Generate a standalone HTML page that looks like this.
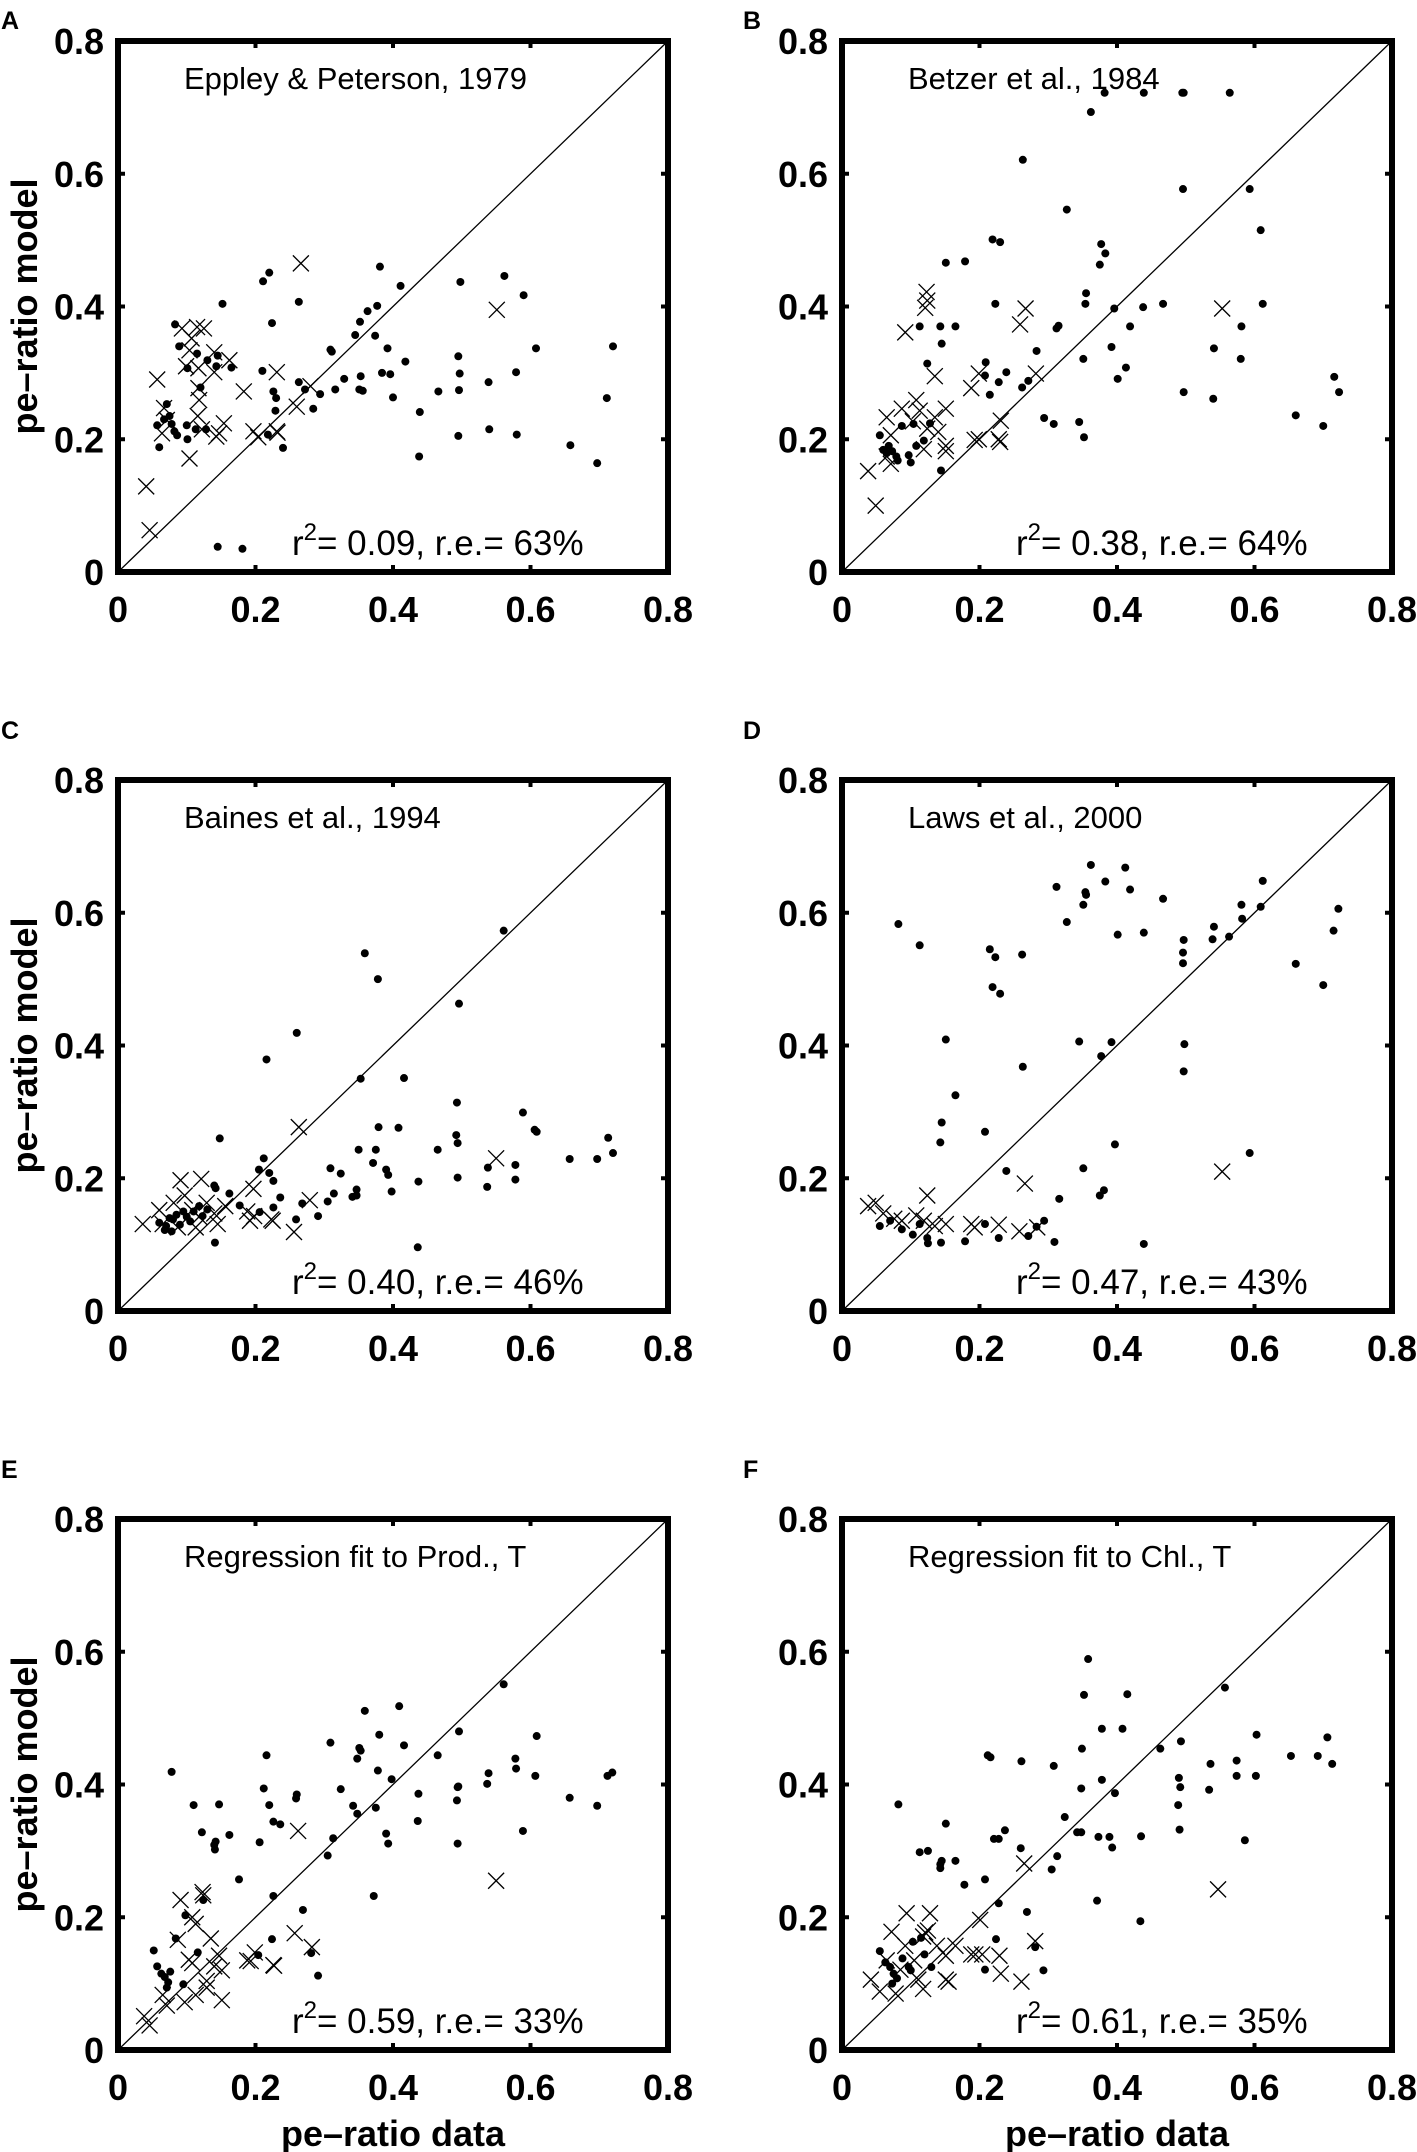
<!DOCTYPE html>
<html><head><meta charset="utf-8">
<style>
html,body{margin:0;padding:0;background:#fff;}
svg{display:block;}
.tick{font-family:"Liberation Sans",sans-serif;font-weight:bold;font-size:36px;fill:#000;}
.ann{font-family:"Liberation Sans",sans-serif;font-size:31px;fill:#000;}
.stat{font-family:"Liberation Sans",sans-serif;font-size:35px;fill:#000;}
.atitle{font-family:"Liberation Sans",sans-serif;font-weight:bold;font-size:36px;fill:#000;}
.plabel{font-family:"Liberation Sans",sans-serif;font-weight:bold;font-size:25px;fill:#000;}
</style></head>
<body>
<svg id="fig" width="1417" height="2152" viewBox="0 0 1417 2152" xmlns="http://www.w3.org/2000/svg"></svg>
<script>
// ---- data ----
const tickValues = [0, 0.2, 0.4, 0.6, 0.8];
const tickLabels = ["0", "0.2", "0.4", "0.6", "0.8"];
const panelTitles = ["Eppley & Peterson, 1979","Betzer et al., 1984","Baines et al., 1994","Laws et al., 2000","Regression fit to Prod., T","Regression fit to Chl., T"];
const panelLetters = ["A","B","C","D","E","F"];
const panelR2 = ["0.09","0.38","0.40","0.47","0.59","0.61"];
const panelRE = ["63%","64%","46%","43%","33%","35%"];

const dotsA = [[0.211,0.438],[0.220,0.451],[0.263,0.407],[0.152,0.404],[0.224,0.375],[0.381,0.460],[0.411,0.431],[0.562,0.446],[0.498,0.437],[0.590,0.417],[0.345,0.357],[0.352,0.377],[0.363,0.393],[0.377,0.401],[0.374,0.356],[0.309,0.335],[0.311,0.332],[0.392,0.337],[0.418,0.317],[0.384,0.300],[0.396,0.298],[0.329,0.291],[0.316,0.275],[0.294,0.268],[0.284,0.246],[0.263,0.286],[0.272,0.275],[0.353,0.295],[0.351,0.275],[0.356,0.273],[0.400,0.263],[0.495,0.325],[0.497,0.299],[0.496,0.274],[0.539,0.286],[0.579,0.301],[0.608,0.337],[0.720,0.340],[0.711,0.262],[0.466,0.272],[0.439,0.241],[0.540,0.215],[0.495,0.205],[0.580,0.207],[0.658,0.191],[0.697,0.164],[0.438,0.174],[0.210,0.303],[0.226,0.272],[0.230,0.262],[0.229,0.243],[0.218,0.207],[0.240,0.187],[0.145,0.038],[0.181,0.035],[0.083,0.373],[0.089,0.340],[0.101,0.307],[0.115,0.329],[0.120,0.278],[0.130,0.319],[0.143,0.310],[0.145,0.326],[0.165,0.308],[0.113,0.215],[0.128,0.215],[0.057,0.221],[0.060,0.188],[0.071,0.253],[0.075,0.235],[0.078,0.223],[0.082,0.212],[0.086,0.206],[0.067,0.230],[0.100,0.221],[0.101,0.200]];
const crossesA = [[0.266,0.465],[0.551,0.395],[0.093,0.367],[0.115,0.369],[0.125,0.367],[0.107,0.352],[0.057,0.290],[0.104,0.334],[0.099,0.310],[0.117,0.307],[0.140,0.331],[0.140,0.301],[0.162,0.319],[0.117,0.277],[0.118,0.259],[0.116,0.235],[0.122,0.215],[0.147,0.209],[0.154,0.224],[0.143,0.204],[0.067,0.247],[0.071,0.229],[0.064,0.209],[0.104,0.171],[0.041,0.129],[0.046,0.063],[0.183,0.272],[0.231,0.301],[0.197,0.212],[0.204,0.203],[0.231,0.212],[0.232,0.210],[0.260,0.249],[0.280,0.280]];

const dotsB = [[0.382,0.722],[0.439,0.722],[0.495,0.722],[0.497,0.722],[0.564,0.722],[0.362,0.693],[0.263,0.621],[0.496,0.577],[0.593,0.577],[0.327,0.546],[0.609,0.515],[0.219,0.501],[0.230,0.497],[0.377,0.494],[0.383,0.480],[0.375,0.463],[0.151,0.466],[0.179,0.468],[0.355,0.420],[0.354,0.404],[0.223,0.404],[0.396,0.397],[0.438,0.399],[0.467,0.404],[0.612,0.404],[0.113,0.370],[0.143,0.370],[0.165,0.370],[0.145,0.344],[0.312,0.367],[0.315,0.371],[0.419,0.370],[0.581,0.370],[0.392,0.339],[0.541,0.337],[0.283,0.333],[0.351,0.321],[0.580,0.321],[0.124,0.314],[0.209,0.316],[0.208,0.296],[0.239,0.301],[0.228,0.286],[0.271,0.288],[0.262,0.278],[0.215,0.267],[0.413,0.308],[0.401,0.291],[0.497,0.271],[0.540,0.261],[0.716,0.294],[0.723,0.271],[0.294,0.232],[0.308,0.223],[0.345,0.226],[0.352,0.203],[0.660,0.236],[0.700,0.220],[0.087,0.220],[0.104,0.223],[0.055,0.206],[0.128,0.224],[0.060,0.184],[0.068,0.190],[0.073,0.182],[0.079,0.174],[0.081,0.168],[0.065,0.179],[0.097,0.176],[0.100,0.165],[0.119,0.198],[0.108,0.190],[0.144,0.153]];
const crossesB = [[0.123,0.422],[0.124,0.409],[0.121,0.398],[0.092,0.361],[0.267,0.397],[0.259,0.373],[0.553,0.397],[0.135,0.295],[0.199,0.299],[0.188,0.277],[0.282,0.299],[0.151,0.246],[0.231,0.228],[0.193,0.199],[0.199,0.200],[0.228,0.200],[0.230,0.196],[0.065,0.233],[0.087,0.246],[0.108,0.259],[0.113,0.243],[0.103,0.227],[0.124,0.216],[0.135,0.233],[0.140,0.211],[0.151,0.190],[0.151,0.182],[0.071,0.206],[0.119,0.185],[0.065,0.174],[0.071,0.163],[0.038,0.152],[0.049,0.100]];

const dotsC = [[0.561,0.573],[0.359,0.539],[0.378,0.500],[0.496,0.463],[0.260,0.419],[0.216,0.379],[0.353,0.350],[0.416,0.351],[0.493,0.314],[0.589,0.299],[0.379,0.277],[0.408,0.276],[0.606,0.273],[0.609,0.270],[0.148,0.260],[0.492,0.265],[0.494,0.253],[0.713,0.261],[0.350,0.243],[0.375,0.243],[0.465,0.243],[0.720,0.238],[0.657,0.229],[0.697,0.229],[0.212,0.230],[0.371,0.223],[0.205,0.213],[0.220,0.208],[0.309,0.215],[0.324,0.207],[0.390,0.213],[0.393,0.205],[0.538,0.216],[0.578,0.220],[0.226,0.196],[0.437,0.195],[0.494,0.201],[0.578,0.198],[0.537,0.187],[0.140,0.189],[0.142,0.185],[0.162,0.177],[0.347,0.183],[0.398,0.180],[0.314,0.177],[0.305,0.165],[0.236,0.171],[0.341,0.172],[0.347,0.174],[0.268,0.162],[0.226,0.156],[0.177,0.159],[0.206,0.149],[0.291,0.143],[0.259,0.138],[0.141,0.103],[0.436,0.096],[0.060,0.133],[0.070,0.128],[0.075,0.140],[0.080,0.138],[0.085,0.145],[0.090,0.130],[0.095,0.150],[0.100,0.142],[0.105,0.135],[0.110,0.150],[0.118,0.158],[0.123,0.143],[0.130,0.153],[0.068,0.122],[0.078,0.120]];
const crossesC = [[0.263,0.277],[0.550,0.230],[0.091,0.197],[0.121,0.199],[0.197,0.184],[0.279,0.167],[0.223,0.138],[0.225,0.136],[0.256,0.119],[0.188,0.150],[0.192,0.136],[0.198,0.143],[0.036,0.131],[0.060,0.152],[0.081,0.163],[0.097,0.174],[0.108,0.152],[0.118,0.142],[0.129,0.163],[0.140,0.147],[0.145,0.131],[0.156,0.158],[0.087,0.126],[0.113,0.126],[0.065,0.131]];

const dotsD = [[0.362,0.672],[0.412,0.668],[0.312,0.639],[0.383,0.647],[0.419,0.635],[0.354,0.631],[0.355,0.627],[0.351,0.612],[0.612,0.648],[0.581,0.612],[0.609,0.609],[0.467,0.621],[0.722,0.606],[0.082,0.583],[0.327,0.586],[0.582,0.591],[0.541,0.579],[0.401,0.567],[0.439,0.570],[0.563,0.564],[0.539,0.560],[0.715,0.573],[0.497,0.559],[0.496,0.540],[0.496,0.524],[0.113,0.551],[0.215,0.545],[0.223,0.533],[0.262,0.537],[0.660,0.523],[0.219,0.488],[0.230,0.478],[0.700,0.491],[0.151,0.409],[0.345,0.406],[0.392,0.405],[0.377,0.384],[0.498,0.402],[0.497,0.361],[0.263,0.368],[0.165,0.325],[0.145,0.284],[0.143,0.254],[0.208,0.270],[0.397,0.251],[0.593,0.238],[0.239,0.211],[0.351,0.215],[0.381,0.182],[0.375,0.174],[0.316,0.169],[0.294,0.136],[0.283,0.127],[0.271,0.113],[0.228,0.110],[0.208,0.131],[0.179,0.105],[0.144,0.103],[0.125,0.102],[0.309,0.104],[0.439,0.101],[0.055,0.128],[0.087,0.123],[0.103,0.115],[0.113,0.131],[0.070,0.136],[0.124,0.110]];
const crossesD = [[0.266,0.192],[0.553,0.210],[0.124,0.174],[0.038,0.158],[0.060,0.147],[0.076,0.139],[0.087,0.136],[0.108,0.144],[0.119,0.136],[0.135,0.128],[0.151,0.131],[0.049,0.163],[0.188,0.131],[0.193,0.126],[0.228,0.130],[0.258,0.120],[0.284,0.126]];

const dotsE = [[0.561,0.551],[0.409,0.518],[0.359,0.511],[0.496,0.480],[0.609,0.473],[0.380,0.475],[0.309,0.463],[0.416,0.459],[0.351,0.455],[0.353,0.451],[0.348,0.439],[0.216,0.444],[0.465,0.444],[0.578,0.439],[0.579,0.424],[0.078,0.419],[0.378,0.421],[0.398,0.408],[0.539,0.417],[0.607,0.413],[0.537,0.401],[0.712,0.413],[0.719,0.418],[0.212,0.394],[0.324,0.393],[0.494,0.396],[0.495,0.397],[0.260,0.385],[0.259,0.379],[0.437,0.386],[0.657,0.380],[0.493,0.376],[0.697,0.368],[0.110,0.369],[0.147,0.370],[0.220,0.369],[0.342,0.368],[0.375,0.365],[0.348,0.356],[0.226,0.344],[0.236,0.340],[0.436,0.345],[0.589,0.330],[0.122,0.328],[0.162,0.324],[0.313,0.319],[0.390,0.326],[0.393,0.311],[0.494,0.311],[0.142,0.314],[0.140,0.309],[0.141,0.302],[0.206,0.313],[0.305,0.293],[0.176,0.257],[0.226,0.232],[0.372,0.232],[0.124,0.226],[0.269,0.211],[0.224,0.167],[0.281,0.146],[0.291,0.112],[0.204,0.143],[0.084,0.168],[0.116,0.147],[0.052,0.150],[0.098,0.203],[0.057,0.126],[0.063,0.115],[0.068,0.110],[0.073,0.102],[0.076,0.118],[0.071,0.094],[0.095,0.099]];
const crossesE = [[0.262,0.330],[0.550,0.255],[0.091,0.226],[0.123,0.238],[0.124,0.233],[0.108,0.200],[0.113,0.190],[0.135,0.168],[0.087,0.166],[0.103,0.136],[0.147,0.142],[0.140,0.126],[0.129,0.104],[0.151,0.075],[0.113,0.083],[0.097,0.072],[0.071,0.067],[0.038,0.051],[0.046,0.037],[0.065,0.083],[0.257,0.176],[0.282,0.155],[0.199,0.147],[0.188,0.135],[0.193,0.134],[0.226,0.128],[0.227,0.127],[0.108,0.131],[0.151,0.120],[0.129,0.094]];

const dotsF = [[0.358,0.589],[0.557,0.546],[0.352,0.535],[0.415,0.536],[0.378,0.484],[0.408,0.484],[0.603,0.475],[0.706,0.471],[0.463,0.454],[0.349,0.454],[0.493,0.465],[0.212,0.444],[0.216,0.441],[0.261,0.435],[0.308,0.428],[0.653,0.443],[0.692,0.443],[0.713,0.431],[0.536,0.431],[0.574,0.436],[0.490,0.410],[0.574,0.413],[0.602,0.413],[0.378,0.407],[0.492,0.396],[0.348,0.394],[0.534,0.392],[0.397,0.387],[0.082,0.370],[0.489,0.369],[0.324,0.351],[0.151,0.341],[0.491,0.332],[0.237,0.331],[0.221,0.318],[0.228,0.318],[0.342,0.328],[0.348,0.328],[0.373,0.321],[0.389,0.321],[0.435,0.322],[0.260,0.304],[0.393,0.305],[0.586,0.316],[0.113,0.298],[0.125,0.300],[0.143,0.280],[0.145,0.285],[0.143,0.274],[0.165,0.285],[0.313,0.292],[0.305,0.272],[0.178,0.249],[0.208,0.257],[0.371,0.225],[0.434,0.194],[0.228,0.221],[0.269,0.208],[0.224,0.167],[0.281,0.155],[0.293,0.120],[0.208,0.121],[0.055,0.149],[0.063,0.132],[0.070,0.125],[0.075,0.115],[0.080,0.108],[0.073,0.100],[0.088,0.138],[0.097,0.125],[0.103,0.163],[0.115,0.169],[0.120,0.144],[0.130,0.125],[0.100,0.120]];
const crossesF = [[0.265,0.281],[0.547,0.242],[0.094,0.206],[0.128,0.206],[0.201,0.196],[0.281,0.164],[0.072,0.178],[0.092,0.157],[0.118,0.171],[0.121,0.177],[0.125,0.180],[0.151,0.142],[0.138,0.157],[0.165,0.157],[0.151,0.106],[0.105,0.135],[0.042,0.106],[0.055,0.088],[0.078,0.085],[0.111,0.106],[0.118,0.092],[0.085,0.121],[0.065,0.135],[0.188,0.144],[0.194,0.144],[0.204,0.144],[0.229,0.142],[0.231,0.115],[0.261,0.103],[0.155,0.103]];

const allDots = [dotsA, dotsB, dotsC, dotsD, dotsE, dotsF];
const allCrosses = [crossesA, crossesB, crossesC, crossesD, crossesE, crossesF];

// ---- layout ----
const NS = "http://www.w3.org/2000/svg";
const svg = document.getElementById('fig');
const colLeft = [118, 842], rowTop = [41, 780, 1519];
const W = 550, H = 531, VMAX = 0.8;
const letterY = [29, 739, 1478];

function mk(tag, attrs, parent) {
  const e = document.createElementNS(NS, tag);
  for (const k in attrs) e.setAttribute(k, attrs[k]);
  (parent || svg).appendChild(e);
  return e;
}

for (let p = 0; p < 6; p++) {
  const col = p % 2, row = Math.floor(p / 2);
  const L = colLeft[col], T = rowTop[row];
  const sx = v => L + v / VMAX * W;
  const sy = v => T + H - v / VMAX * H;
  const g = mk('g', {});
  
  

  const lt = mk('text', {x: col ? 743 : 1, y: letterY[row], class: 'plabel'}, g);
  lt.textContent = panelLetters[p];
  
  

  const diag = mk('line', {x1: sx(0), y1: sy(0), x2: sx(VMAX), y2: sy(VMAX), stroke: '#000', 'stroke-width': 1.3}, g);
  
  

  const dg = mk('g', {}, g);
  
  
  allDots[p].forEach(d => {
    const c = mk('circle', {cx: sx(d[0]), cy: sy(d[1]), r: 4, fill: '#000'}, dg);
    
    
  });
  const cg = mk('g', {}, g);
  
  
  allCrosses[p].forEach(d => {
    const x = sx(d[0]), y = sy(d[1]), s = 8;
    const c = mk('path', {d: `M${x-s},${y-s}L${x+s},${y+s}M${x-s},${y+s}L${x+s},${y-s}`, stroke: '#000', 'stroke-width': 1.3, fill: 'none'}, cg);
    
    
  });

  const fr = mk('rect', {x: L, y: T, width: W, height: H, fill: 'none', stroke: '#000', 'stroke-width': 6}, g);
  
  

  tickValues.forEach((v, i) => {
    if (i > 0 && i < tickValues.length - 1) {
      const tk = mk('path', {d: `M${sx(v)},${T+H}v-7M${sx(v)},${T}v7M${L},${sy(v)}h7M${L+W},${sy(v)}h-7`, stroke: '#000', 'stroke-width': 4}, g);
      
      
    }
    const xl = mk('text', {x: sx(v), y: T + H + 50, class: 'tick', 'text-anchor': 'middle'}, g);
    xl.textContent = tickLabels[i];
    
    
    const yl = mk('text', {x: L - 14, y: sy(v) + 13, class: 'tick', 'text-anchor': 'end'}, g);
    yl.textContent = tickLabels[i];
    
    
  });

  const at = mk('text', {x: L + 66, y: T + 48, class: 'ann'}, g);
  at.textContent = panelTitles[p];
  
  

  const st = mk('text', {x: L + 174, y: T + H - 17, class: 'stat'}, g);
  st.innerHTML = 'r<tspan dy="-15" font-size="24">2</tspan><tspan dy="15">= ' + panelR2[p] + ', r.e.= ' + panelRE[p] + '</tspan>';
  
  

  if (col === 0) {
    const cy = T + H / 2;
    const yt = mk('text', {x: 0, y: 0, class: 'atitle', 'text-anchor': 'middle', transform: `translate(37,${cy}) rotate(-90)`}, g);
    yt.textContent = 'pe\u2013ratio model';
    
    
  }
  if (row === 2) {
    const xt = mk('text', {x: L + W / 2, y: 2146, class: 'atitle', 'text-anchor': 'middle'}, g);
    xt.textContent = 'pe\u2013ratio data';
    
    
  }
}
</script>
</body></html>
